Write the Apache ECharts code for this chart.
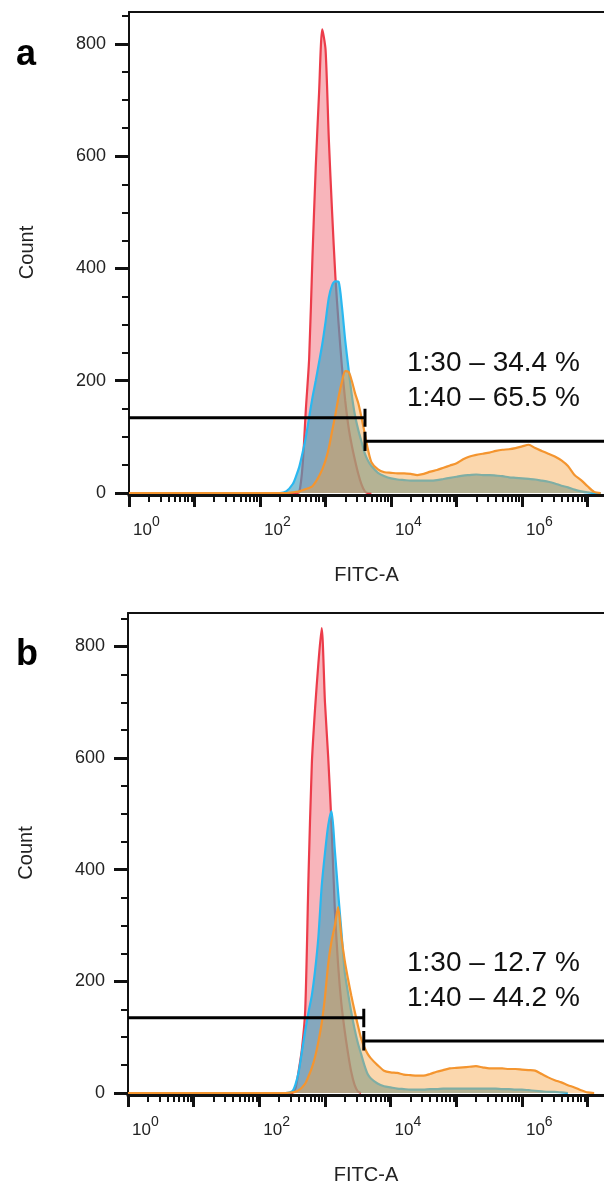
<!DOCTYPE html>
<html><head><meta charset="utf-8">
<script src="https://cdn.jsdelivr.net/npm/echarts@6/dist/echarts.min.js"></script>
<style>html,body{margin:0;padding:0;background:#fff}#c{width:604px;height:1186px}</style>
</head><body><div id="c"></div>
<script>
// FITC-A bin centres (raw units, log-spaced), shared by both panels
const fitcBins = [1, 100, 158, 200, 251, 316, 355, 398, 447, 501, 562, 631, 708, 794, 891,
  1000, 1122, 1259, 1413, 1585, 1778, 1995, 2239, 2512, 2818, 3162, 3548, 3981, 4467, 5012,
  6310, 7943, 10000, 12589, 15849, 19953, 25119, 31623, 39811, 50119, 63096, 79433,
  100000, 125893, 158489, 199526, 251189, 316228, 398107, 501187, 630957, 794328,
  1000000, 1258925, 1584893, 1995262, 2511886, 3162278, 3981072, 5011872, 6309573, 7943282,
  10000000, 12589254, 15848932];

// Panel a counts
const redA = [0, 0, 0, 0, 0, 0, 0, 2, 50, 150, 240, 420, 580, 710, 826,
  790, 630, 500, 385, 300, 225, 165, 118, 85, 58, 34, 15, 3, 0, 0];
const blueA = [0, 0, 0, 0, 3, 16, 30, 47, 72, 100, 135, 170, 200, 232, 265,
  305, 348, 370, 377, 376, 332, 272, 222, 175, 138, 112, 91, 70, 57, 48,
  36, 30, 26, 24, 23, 22, 22, 22, 22, 23, 25, 27,
  29, 31, 32, 33, 32, 32, 31, 30, 28, 27,
  26, 25, 24, 22, 20, 17, 13, 10, 6, 3,
  1, 0, 0];
const orangeA = [0, 0, 0, 0, 0, 1, 2, 3, 5, 7, 9, 12, 20, 30, 42,
  58, 80, 110, 140, 172, 198, 217, 216, 200, 178, 160, 134, 105, 76, 55,
  42, 37, 36, 35, 35, 34, 32, 34, 38, 41, 45, 49,
  53, 60, 65, 68, 70, 72, 75, 77, 78, 80,
  83, 86, 80, 75, 70, 65, 58, 48, 32, 23,
  12, 2, 0];

// Panel b counts
const redB = [0, 0, 0, 0, 0, 0, 8, 40, 80, 150, 390, 590, 690, 770, 833,
  700, 600, 480, 329, 230, 160, 112, 72, 38, 15, 3, 0];
const blueB = [0, 0, 0, 0, 0, 3, 15, 38, 75, 112, 145, 175, 220, 280, 370,
  430, 480, 505, 435, 360, 290, 218, 180, 145, 115, 90, 70, 50, 34, 26,
  17, 12, 10, 8, 7, 6, 6, 6, 7, 7, 8, 8,
  8, 8, 8, 8, 8, 8, 8, 7, 7, 6,
  6, 5, 4, 3, 2, 2, 1, 0];
const orangeB = [0, 0, 0, 0, 0, 1, 2, 5, 10, 17, 30, 45, 65, 92, 125,
  172, 232, 272, 300, 333, 280, 238, 205, 175, 148, 122, 98, 82, 70, 62,
  50, 40, 37, 36, 33, 32, 31, 31, 34, 38, 41, 44,
  45, 46, 47, 48, 46, 44, 44, 44, 43, 43,
  42, 41, 40, 34, 28, 23, 19, 14, 10, 5,
  1, 0];

// Gates: [left level, right level], caps [leftLo, leftHi, rightLo, rightHi], split position (FITC)
const gateLevelsA = [134, 92];
const gateCapsA = [118, 150, 75, 109];
const gateSplitA = 4000;
const gateLevelsB = [135, 93];
const gateCapsB = [118, 151, 76, 111];
const gateSplitB = 3900;

// Tick labels
const countTicks = [0, 200, 400, 600, 800];
const countMinor = [50, 100, 150, 250, 300, 350, 450, 500, 550, 650, 700, 750, 850];
const decadeLabels = [0, 2, 4, 6];
const decadeTicks = [0, 1, 2, 3, 4, 5, 6, 7];
const annotA = ['1:30 \u2013 34.4 %', '1:40 \u2013 65.5 %'];
const annotB = ['1:30 \u2013 12.7 %', '1:40 \u2013 44.2 %'];
const panelLetters = ['a', 'b'];

const SANS = "'Liberation Sans',Arial,Helvetica,sans-serif";
const INK = '#111';
const TXT = '#222';
const XMAX = 7.25;

const minorDecades = [];
for (let k = 0; k <= 7; k++) for (let m = 2; m <= 9; m++) {
  const v = k + Math.log10(m); if (v <= XMAX) minorDecades.push(v);
}
const toPairs = arr => arr.map((v, i) => [Math.log10(fitcBins[i]), v]);

const grids = [], xAxes = [], yAxes = [], series = [], graphics = [];

function panel(idx, L, d) {
  const xi = idx * 3, yi = idx * 2;
  grids.push({left: L.left, top: L.top, width: 481, height: 481});
  xAxes.push({
    gridIndex: idx, type: 'value', min: 0, max: XMAX, position: 'bottom', offset: 2,
    axisLine: {show: true, onZero: false, lineStyle: {color: INK, width: 3}},
    axisTick: {show: true, customValues: decadeTicks, length: 12, lineStyle: {color: INK, width: 3}},
    axisLabel: {show: true, customValues: decadeLabels, align: 'left', margin: 20,
      formatter: v => '{b|10}{s|' + v + '}',
      rich: {b: {fontSize: 17, fontFamily: SANS, color: TXT, verticalAlign: 'bottom', padding: [0, 0, 0, 4]},
             s: {fontSize: 14, fontFamily: SANS, color: TXT, verticalAlign: 'bottom', padding: [0, 0, 10, 0]}}},
    splitLine: {show: false},
    name: 'FITC-A', nameLocation: 'middle', nameGap: 70,
    nameTextStyle: {fontSize: 20, fontFamily: SANS, color: TXT}
  });
  xAxes.push({
    gridIndex: idx, type: 'value', min: 0, max: XMAX, position: 'bottom', offset: 2,
    axisLine: {show: false, onZero: false},
    axisTick: {show: true, customValues: minorDecades, length: 7, lineStyle: {color: INK, width: 2}},
    axisLabel: {show: false}, splitLine: {show: false}
  });
  xAxes.push({
    gridIndex: idx, type: 'value', min: 0, max: XMAX, position: 'top',
    axisLine: {show: true, onZero: false, lineStyle: {color: INK, width: 2}},
    axisTick: {show: false}, axisLabel: {show: false}, splitLine: {show: false}
  });
  yAxes.push({
    gridIndex: idx, type: 'value', min: 0, max: L.ymax, position: 'left',
    axisLine: {show: true, onZero: false, lineStyle: {color: INK, width: 2}},
    axisTick: {show: true, customValues: countTicks, length: 14, lineStyle: {color: INK, width: 3}},
    axisLabel: {customValues: countTicks, fontSize: 18, fontFamily: SANS, color: TXT, margin: 23},
    splitLine: {show: false},
    name: 'Count', nameLocation: 'middle', nameGap: 92, nameRotate: 90,
    nameTextStyle: {fontSize: 20, fontFamily: SANS, color: TXT}
  });
  yAxes.push({
    gridIndex: idx, type: 'value', min: 0, max: L.ymax, position: 'left',
    axisLine: {show: false, onZero: false},
    axisTick: {show: true, customValues: countMinor, length: 7, lineStyle: {color: INK, width: 2}},
    axisLabel: {show: false}, splitLine: {show: false}
  });
  const hist = (data, line, fill, z) => ({
    type: 'line', xAxisIndex: xi, yAxisIndex: yi, data: toPairs(data), symbol: 'none',
    smooth: 0.25, lineStyle: {color: line, width: 2.2}, areaStyle: {color: fill, opacity: 1}, z: z, silent: true
  });
  series.push(hist(d.red, '#ec3c4a', 'rgba(238,70,85,0.4)', 2));
  series.push(hist(d.blue, '#2ab8f0', 'rgba(70,160,190,0.65)', 3));
  series.push(hist(d.orange, '#f4952f', 'rgba(245,160,60,0.42)', 4));
  const gx = Math.log10(d.split);
  const seg = pts => ({type: 'line', xAxisIndex: xi, yAxisIndex: yi, data: pts, symbol: 'none',
    lineStyle: {color: '#000', width: 3, cap: 'butt'}, z: 10, silent: true});
  series.push(seg([[0, d.levels[0]], [gx, d.levels[0]]]));
  series.push(seg([[gx, d.caps[0]], [gx, d.caps[1]]]));
  series.push(seg([[gx, d.levels[1]], [XMAX + 1, d.levels[1]]]));
  series.push(seg([[gx, d.caps[2]], [gx, d.caps[3]]]));
  d.annot.forEach((t, i) => graphics.push({type: 'text', x: 407, y: L.annotY + i * 35, z: 20,
    style: {text: t, fontSize: 28, fontFamily: SANS, fill: '#111', align: 'left', verticalAlign: 'middle'}}));
  graphics.push({type: 'text', x: 16, y: L.letterY, z: 20,
    style: {text: d.letter, fontSize: 36, fontWeight: 'bold', fontFamily: SANS, fill: '#000', align: 'left', verticalAlign: 'middle'}});
}

panel(0, {left: 129, top: 12, ymax: 857, annotY: 363, letterY: 55}, {
  red: redA, blue: blueA, orange: orangeA, levels: gateLevelsA, caps: gateCapsA, split: gateSplitA,
  annot: annotA, letter: panelLetters[0]});
panel(1, {left: 128, top: 613, ymax: 860, annotY: 963, letterY: 655}, {
  red: redB, blue: blueB, orange: orangeB, levels: gateLevelsB, caps: gateCapsB, split: gateSplitB,
  annot: annotB, letter: panelLetters[1]});

const chart = echarts.init(document.getElementById('c'), null, {renderer: 'canvas'});
chart.setOption({
  animation: false, backgroundColor: '#fff',
  grid: grids, xAxis: xAxes, yAxis: yAxes, series: series, graphic: graphics
});
</script></body></html>
